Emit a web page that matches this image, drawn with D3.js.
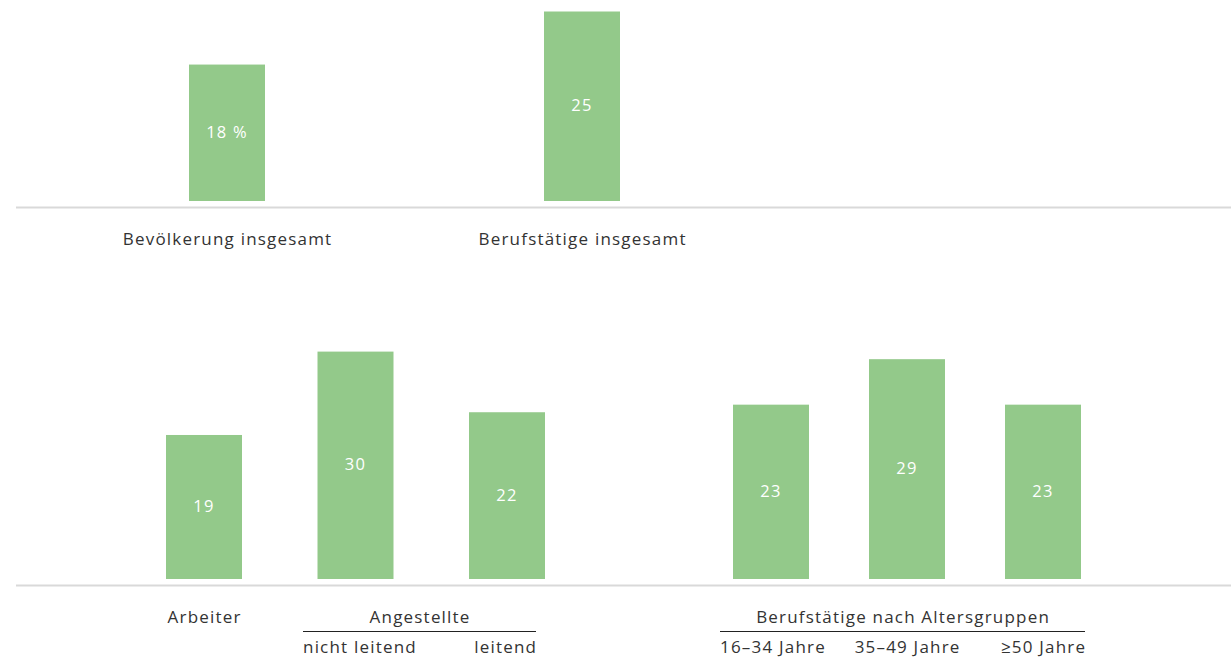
<!DOCTYPE html>
<html>
<head>
<meta charset="utf-8">
<script src="https://cdn.jsdelivr.net/npm/d3@7"></script>
<style>
  html, body { margin: 0; padding: 0; background: #fff; }
  svg { display: block; }
  text { font-family: "Open Sans", "DejaVu Sans", sans-serif; }
</style>
</head>
<body>
<svg id="chart" width="1231" height="657"></svg>
<script>
// ---- data ----
const topCategories = ["Bevölkerung insgesamt", "Berufstätige insgesamt"];
const topValues = [18, 25];
const topValueLabels = ["18 %", "25"];

const jobCategories = ["Arbeiter", "nicht leitend", "leitend"];
const jobValues = [19, 30, 22];

const ageCategories = ["16–34 Jahre", "35–49 Jahre", "≥50 Jahre"];
const ageValues = [23, 29, 23];

const groupLabelJob = "Angestellte";
const groupLabelAge = "Berufstätige nach Altersgruppen";

// ---- layout ----
const svg = d3.select("#chart");
const W = 1231;
const barW = 76;
const barColor = "#93c98a";
const gridColor = "#d9d9d9";
const textColor = "#333333";
const pxPerUnit = 7.58;

const topBase = 201, botBase = 579;
const yTop = d3.scaleLinear().domain([0, 30]).range([topBase, topBase - 30 * pxPerUnit]);
const yBot = d3.scaleLinear().domain([0, 30]).range([botBase, botBase - 30 * pxPerUnit]);

const xTop = d3.scalePoint().domain(topCategories).range([227, 582]);
const xJob = d3.scalePoint().domain(jobCategories).range([204, 507]);
const xAge = d3.scalePoint().domain(ageCategories).range([771, 1043]);

function drawBars(g, cats, vals, labels, x, y) {
  const data = cats.map((c, i) => ({c, v: vals[i], l: labels[i]}));
  g.selectAll("rect.bar").data(data).join("rect")
    .attr("class", "bar")
    .attr("x", d => x(d.c) - barW / 2)
    .attr("width", barW)
    .attr("y", d => y(d.v))
    .attr("height", d => y(0) - y(d.v))
    .attr("fill", barColor);
  g.selectAll("text.val").data(data).join("text")
    .attr("class", "val")
    .attr("x", d => x(d.c))
    .attr("y", d => (y(d.v) + y(0)) / 2 + 5)
    .attr("text-anchor", "middle")
    .attr("fill", "#fff")
    .attr("font-size", 16.5)
    .attr("letter-spacing", 1.2)
    .text(d => d.l);
}

// gridlines
svg.append("line").attr("x1", 16).attr("x2", W).attr("y1", 207.5).attr("y2", 207.5)
  .attr("stroke", gridColor).attr("stroke-width", 2);
svg.append("line").attr("x1", 16).attr("x2", W).attr("y1", 585.5).attr("y2", 585.5)
  .attr("stroke", gridColor).attr("stroke-width", 2);

const gTop = svg.append("g");
drawBars(gTop, topCategories, topValues, topValueLabels, xTop, yTop);
const gJob = svg.append("g");
drawBars(gJob, jobCategories, jobValues, jobValues.map(String), xJob, yBot);
const gAge = svg.append("g");
drawBars(gAge, ageCategories, ageValues, ageValues.map(String), xAge, yBot);

function label(x, y, t, anchor) {
  const ls = 1.2;
  const a = anchor || "middle";
  // compensate trailing letter-spacing so alignment matches
  const dx = a === "middle" ? ls / 2 : (a === "end" ? ls : 0);
  svg.append("text").attr("x", x + dx).attr("y", y).attr("text-anchor", a)
    .attr("fill", textColor).attr("font-size", 17).attr("letter-spacing", ls).text(t);
}

// top category labels
topCategories.forEach(c => label(xTop(c), 245, c));

// bottom labels
label(xJob("Arbeiter"), 623, "Arbeiter");
const jobL = 303, jobR = 536;
label((jobL + jobR) / 2, 623, groupLabelJob);
svg.append("line").attr("x1", jobL).attr("x2", jobR).attr("y1", 631.5).attr("y2", 631.5)
  .attr("stroke", "#222").attr("stroke-width", 1);
label(jobL, 653, "nicht leitend", "start");
label(jobR, 653, "leitend", "end");

const ageL = 720, ageR = 1085;
label((ageL + ageR) / 2, 623, groupLabelAge);
svg.append("line").attr("x1", ageL).attr("x2", ageR).attr("y1", 631.5).attr("y2", 631.5)
  .attr("stroke", "#222").attr("stroke-width", 1);
label(ageL, 653, ageCategories[0], "start");
label(xAge(ageCategories[1]), 653, ageCategories[1]);
label(ageR, 653, ageCategories[2], "end");
</script>
</body>
</html>
